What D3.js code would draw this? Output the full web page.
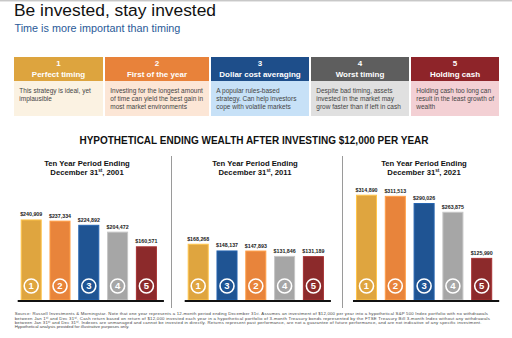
<!DOCTYPE html>
<html>
<head>
<meta charset="utf-8">
<script src="https://cdn.jsdelivr.net/npm/d3@7"></script>
<style>
  html, body { margin: 0; padding: 0; background: #fff; }
  svg { display: block; font-family: "Liberation Sans", Arial, sans-serif; }
</style>
</head>
<body>
<svg id="chart" width="512" height="338"></svg>
<script>
// ---- data ----
const strategyNumbers = [1, 2, 3, 4, 5];
const strategyNames = ["Perfect timing", "First of the year", "Dollar cost averaging", "Worst timing", "Holding cash"];
const strategyNotes = [
  ["This strategy is ideal, yet", "implausible"],
  ["Investing for the longest amount", "of time can yield the best gain in", "most market environments"],
  ["A popular rules-based", "strategy. Can help investors", "cope with volatile markets"],
  ["Despite bad timing, assets", "invested in the market may", "grow faster than if left in cash"],
  ["Holding cash too long can", "result in the least growth of", "wealth"]
];
const periodYears = ["2001", "2011", "2021"];
const order2001 = [1, 2, 3, 4, 5];
const values2001 = [240909, 237334, 224892, 204472, 160571];
const order2011 = [1, 3, 2, 4, 5];
const values2011 = [168268, 148137, 147893, 131846, 131189];
const order2021 = [1, 2, 3, 4, 5];
const values2021 = [314890, 311513, 290026, 263875, 125990];

const footnoteLines = [
  "Source: Russell Investments & Morningstar. Note that one year represents a 12-month period ending December 31^st. Assumes an investment of $12,000 per year into a hypothetical S&P 500 Index portfolio with no withdrawals",
  "between Jan 1^st and Dec 31^st. Cash return based on return of $12,000 invested each year in a hypothetical portfolio of 3-month Treasury bonds represented by the FTSE Treasury Bill 3-month Index without any withdrawals",
  "between Jan 31^st and Dec 31^st. Indexes are unmanaged and cannot be invested in directly. Returns represent past performance, are not a guarantee of future performance, and are not indicative of any specific investment.",
  "Hypothetical analysis provided for illustrative purposes only."
];

// ---- styling ----
const headerColors = ["#DDA43E", "#E8823A", "#1E4E8A", "#5E5E5E", "#8E2429"];
const bodyColors = ["#FBF2E2", "#FCE6D6", "#C7E1F7", "#E0E0E0", "#F3D0D4"];
const barColors = ["#DFA53F", "#E8843B", "#1F5493", "#A6A6A6", "#8C2A2B"];
const cardWidths = [89, 104, 98, 98, 88];
const footnoteWidths = [473.5, 475.5, 467, 114.6];

const svg = d3.select("#chart");

// thin rule along the top edge
svg.append("rect").attr("x", 0).attr("y", 0).attr("width", 512).attr("height", 1).attr("fill", "#c8c8c8");
svg.append("rect").attr("x", 0).attr("y", 1).attr("width", 512).attr("height", 1).attr("fill", "#e6e6e6");

// ---- headline ----
svg.append("text").attr("x", 14).attr("y", 15.7)
  .attr("font-size", 17.4).attr("fill", "#111").text("Be invested, stay invested");
svg.append("text").attr("x", 14.5).attr("y", 31.7)
  .attr("font-size", 10.8).attr("fill", "#2A5A98").text("Time is more important than timing");

// ---- strategy cards ----
const cardX = d3.cumsum([14, ...cardWidths.map(w => w + 2)]).slice(0, 5);
const cards = svg.append("g").selectAll("g").data(strategyNumbers).join("g")
  .attr("transform", (d, i) => `translate(${cardX[i]},57)`);
cards.append("rect").attr("width", (d, i) => cardWidths[i]).attr("height", 24)
  .attr("fill", (d, i) => headerColors[i]);
cards.append("rect").attr("y", 24).attr("width", (d, i) => cardWidths[i]).attr("height", 35)
  .attr("fill", (d, i) => bodyColors[i]);
cards.append("text").attr("x", (d, i) => cardWidths[i] / 2).attr("y", 9.4)
  .attr("text-anchor", "middle").attr("font-size", 8).attr("font-weight", "bold")
  .attr("fill", "#fff").text(d => d);
cards.append("text").attr("x", (d, i) => cardWidths[i] / 2).attr("y", 20.3)
  .attr("text-anchor", "middle").attr("font-size", 8).attr("font-weight", "bold")
  .attr("fill", "#fff").text((d, i) => strategyNames[i]);
cards.each(function(d, i) {
  d3.select(this).selectAll("text.note").data(strategyNotes[i]).join("text")
    .attr("class", "note").attr("x", 5.3).attr("y", (t, j) => 36.3 + j * 8)
    .attr("font-size", 6.5).attr("fill", "#444").text(t => t);
});

// ---- section title ----
svg.append("text").attr("x", 254).attr("y", 144).attr("text-anchor", "middle")
  .attr("font-size", 10).attr("font-weight", "bold").attr("fill", "#111")
  .text("HYPOTHETICAL ENDING WEALTH AFTER INVESTING $12,000 PER YEAR");

// ---- bar panels ----
const panels = [
  { year: periodYears[0], order: order2001, values: values2001, range: [16.8, 160.8], center: 87 },
  { year: periodYears[1], order: order2011, values: values2011, range: [183.8, 327.8], center: 255 },
  { year: periodYears[2], order: order2021, values: values2021, range: [352.1, 496.1], center: 424 }
];
const baseY = 300;
const y = d3.scaleLinear().domain([0, 320000]).range([baseY, baseY - 107]);
const fmt = d3.format("$,");

// dividers between panels
[171.5, 342.5].forEach(x => {
  svg.append("line").attr("x1", x).attr("x2", x).attr("y1", 156).attr("y2", 308)
    .attr("stroke", "#9a9a9a").attr("stroke-width", 1);
});

panels.forEach(p => {
  const g = svg.append("g");
  const x = d3.scaleBand().domain(p.order.map(String)).range(p.range)
    .paddingInner(0.27).paddingOuter(0.135);
  const rows = p.order.map((k, i) => ({ key: k, value: p.values[i] }));

  g.append("text").attr("x", p.center).attr("y", 166).attr("text-anchor", "middle")
    .attr("font-size", 7.7).attr("font-weight", "bold").attr("fill", "#111")
    .text("Ten Year Period Ending");
  const sub = g.append("text").attr("x", p.center).attr("y", 175).attr("text-anchor", "middle")
    .attr("font-size", 7.7).attr("font-weight", "bold").attr("fill", "#111");
  sub.append("tspan").text("December 31");
  sub.append("tspan").attr("dy", -2.6).attr("font-size", 4.6).text("st");
  sub.append("tspan").attr("dy", 2.6).text(", " + p.year);

  g.selectAll("rect.bar").data(rows).join("rect").attr("class", "bar")
    .attr("x", d => x(String(d.key)) + 0.5)
    .attr("width", x.bandwidth() - 1)
    .attr("y", d => y(d.value) + 0.5)
    .attr("height", d => baseY - y(d.value) - 0.5)
    .attr("fill", d => barColors[d.key - 1])
    .attr("stroke", d => d3.color(barColors[d.key - 1]).brighter(0.5))
    .attr("stroke-width", 1);

  g.selectAll("text.val").data(rows).join("text").attr("class", "val")
    .attr("x", d => x(String(d.key)) + x.bandwidth() / 2)
    .attr("y", d => y(d.value) - 3)
    .attr("text-anchor", "middle").attr("font-size", 5.3).attr("font-weight", "bold")
    .attr("fill", "#222").text(d => fmt(d.value));

  g.selectAll("circle.badge").data(rows).join("circle").attr("class", "badge")
    .attr("cx", d => x(String(d.key)) + x.bandwidth() / 2).attr("cy", baseY - 14)
    .attr("r", 7).attr("fill", "none").attr("stroke", "#fff").attr("stroke-width", 1.6);
  g.selectAll("text.badge").data(rows).join("text").attr("class", "badge")
    .attr("x", d => x(String(d.key)) + x.bandwidth() / 2).attr("y", baseY - 10.6)
    .attr("text-anchor", "middle").attr("font-size", 9.5).attr("font-weight", "bold")
    .attr("fill", "#fff").text(d => d.key);

  g.append("line").attr("x1", x(String(p.order[0])) - 3)
    .attr("x2", x(String(p.order[4])) + x.bandwidth() + 7)
    .attr("y1", baseY + 1).attr("y2", baseY + 1)
    .attr("stroke", "#111").attr("stroke-width", 2);
});

// ---- footnote: letter-spacing widens each line to its target width ----
const foot = svg.append("g");
footnoteLines.forEach((line, i) => {
  const t = foot.append("text").attr("x", 14.7).attr("y", 315.3 + i * 4.35)
    .attr("font-size", 4.3).attr("fill", "#444");
  let raised = false;
  line.split(/(\^st)/).forEach(part => {
    if (part === "^st") {
      t.append("tspan").attr("dy", "-0.3em").attr("font-size", "0.6em").text("st");
      raised = true;
    } else if (part) {
      const s = t.append("tspan").text(part);
      if (raised) { s.attr("dy", "0.18em"); raised = false; }
    }
  });
  const w = t.node().getComputedTextLength();
  const n = line.replace(/\^/g, "").length;
  if (w > 0 && w < footnoteWidths[i]) t.attr("letter-spacing", (footnoteWidths[i] - w) / n);
});
</script>
</body>
</html>
